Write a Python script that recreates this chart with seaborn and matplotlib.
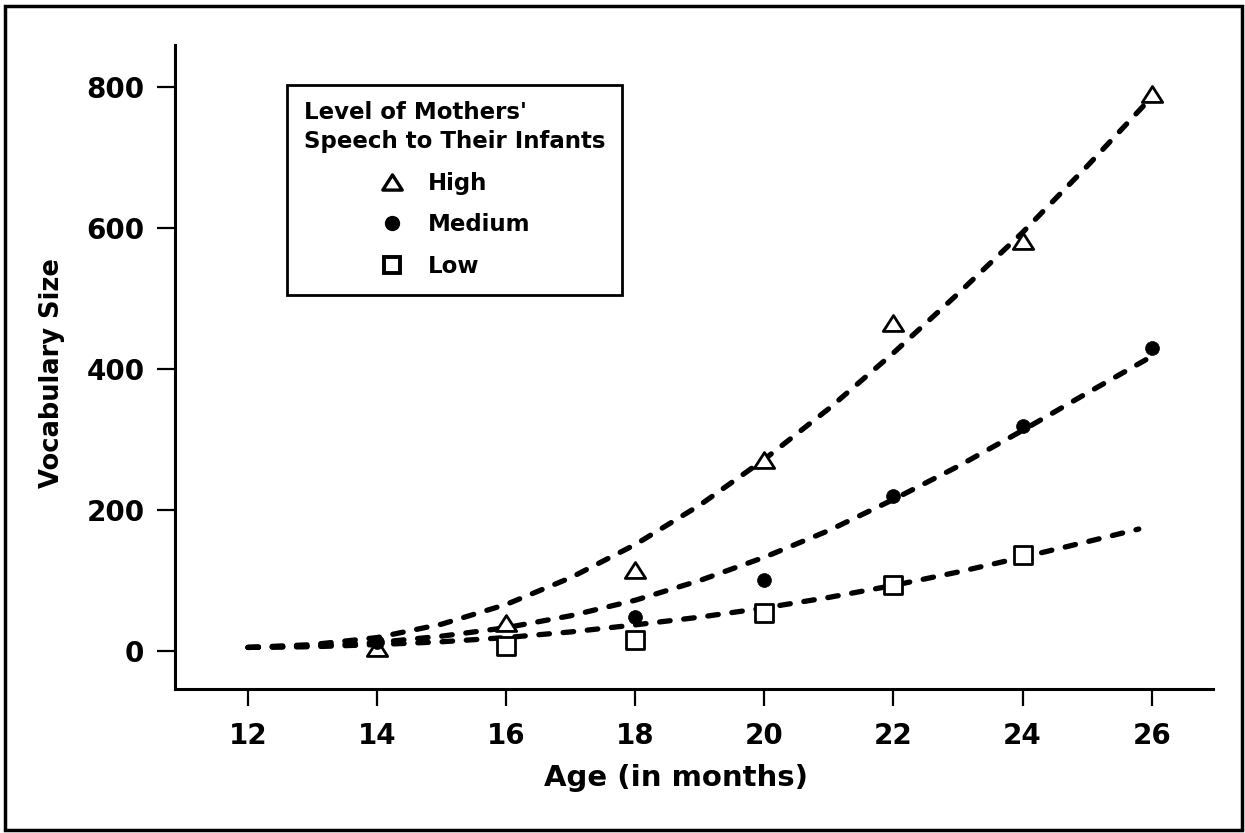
import matplotlib
matplotlib.use("Agg")
import matplotlib.pyplot as plt
from matplotlib.lines import Line2D
from matplotlib.patches import Rectangle
from matplotlib.path import Path
import seaborn as sns
import pandas as pd

# ---- data ----
levels = ["High", "Medium", "Low"]
point_ages_high = [14, 16, 18, 20, 22, 24, 26]
point_vals_high = [4, 40, 115, 271, 466, 582, 790]
point_ages_med = [14, 16, 18, 20, 22, 24, 26]
point_vals_med = [12, 8, 48, 100, 220, 319, 430]
point_ages_low = [16, 18, 20, 22, 24]
point_vals_low = [7, 16, 54, 93, 136]

curve_ages_high = [12, 13, 14, 15, 16, 17, 18, 19, 20, 21, 22, 23, 24, 25, 26]
curve_vals_high = [5, 9, 19, 38, 66, 104, 151, 207, 272, 344, 423, 507, 594, 688, 786]
curve_ages_med = [12, 13, 14, 15, 16, 17, 18, 19, 20, 21, 22, 23, 24, 25, 26]
curve_vals_med = [5, 7, 12, 21, 33, 50, 72, 100, 133, 171, 215, 262, 313, 366, 418]
curve_ages_low = [12, 13, 14, 15, 16, 17, 18, 19, 20, 21, 22, 23, 24, 25, 25.8]
curve_vals_low = [5, 6, 9, 13, 19, 27, 37, 48, 61, 76, 93, 112, 133, 155, 173]

x_ticks = [12, 14, 16, 18, 20, 22, 24, 26]
y_ticks = [0, 200, 400, 600, 800]
legend_title = "Level of Mothers'\nSpeech to Their Infants"
x_label = "Age (in months)"
y_label = "Vocabulary Size"

curves = pd.concat([
    pd.DataFrame({"age": curve_ages_high, "vocab": curve_vals_high, "level": "High"}),
    pd.DataFrame({"age": curve_ages_med, "vocab": curve_vals_med, "level": "Medium"}),
    pd.DataFrame({"age": curve_ages_low, "vocab": curve_vals_low, "level": "Low"}),
], ignore_index=True)
points = {
    "High": pd.DataFrame({"age": point_ages_high, "vocab": point_vals_high}),
    "Medium": pd.DataFrame({"age": point_ages_med, "vocab": point_vals_med}),
    "Low": pd.DataFrame({"age": point_ages_low, "vocab": point_vals_low}),
}

# ---- style ----
sns.set_style("ticks")
plt.rcParams["font.family"] = ["DejaVu Sans"]
plt.rcParams["font.weight"] = "bold"
plt.rcParams["text.color"] = "black"

fig = plt.figure(figsize=(12.45, 8.33), dpi=100)
ax = fig.add_axes([175 / 1245, 1 - 689 / 833, (1213 - 175) / 1245, (689 - 45) / 833])

dash = (2.0, 2.6)
sns.lineplot(data=curves, x="age", y="vocab", style="level", hue="level",
             palette={l: "black" for l in levels},
             dashes={l: dash for l in levels}, estimator=None, sort=True,
             linewidth=3.8, legend=False, ax=ax)
for ln in ax.lines:
    ln.set_dash_capstyle("round")

tri = Path([(-1, -0.78), (1, -0.78), (0, 0.78), (-1, -0.78)],
           [Path.MOVETO, Path.LINETO, Path.LINETO, Path.CLOSEPOLY])
marker_spec = {
    "High": dict(marker=tri, s=215, facecolor="white", edgecolor="black", linewidth=2.0),
    "Medium": dict(marker="o", s=100, facecolor="black", edgecolor="black", linewidth=0.5),
    "Low": dict(marker="s", s=160, facecolor="white", edgecolor="black", linewidth=2.0),
}
for lvl in levels:
    sns.scatterplot(data=points[lvl], x="age", y="vocab", legend=False, ax=ax,
                    zorder=3, **marker_spec[lvl])

ax.set_xlim(10.87, 26.95)
ax.set_ylim(-54, 860)
ax.set_xticks(x_ticks)
ax.set_yticks(y_ticks)
ax.tick_params(axis="both", direction="out", width=1.6, color="black",
               labelsize=20, labelcolor="black")
ax.tick_params(axis="x", length=12, pad=12)
ax.tick_params(axis="y", length=13, pad=9)
for lab in ax.get_xticklabels() + ax.get_yticklabels():
    lab.set_fontweight("bold")
sns.despine(ax=ax)
for sp in ["left", "bottom"]:
    ax.spines[sp].set_linewidth(2.2)
    ax.spines[sp].set_color("black")

ax.set_xlabel(x_label, fontsize=21, fontweight="bold", color="black")
ax.xaxis.set_label_coords(0.483, -0.116)
ax.set_ylabel(y_label, fontsize=18.5, fontweight="bold", color="black")
ax.yaxis.set_label_coords(-0.106, 0.49)

handles = [
    Line2D([], [], linestyle="none", marker=tri, markersize=14, markerfacecolor="white",
           markeredgecolor="black", markeredgewidth=2.4),
    Line2D([], [], linestyle="none", marker="o", markersize=10, markerfacecolor="black",
           markeredgecolor="black"),
    Line2D([], [], linestyle="none", marker="s", markersize=11.5, markerfacecolor="white",
           markeredgecolor="black", markeredgewidth=2.8),
]
leg = ax.legend(handles, levels, title=legend_title, loc="upper left",
                bbox_to_anchor=(0.108, 0.938), borderaxespad=0,
                frameon=True, fancybox=False, edgecolor="black", framealpha=1.0,
                prop={"size": 16.5, "weight": "bold"},
                title_fontproperties={"size": 16.5, "weight": "bold"},
                labelcolor="black",
                labelspacing=0.82, handlelength=1.2, handletextpad=1.0,
                borderpad=0.72)
leg.get_frame().set_linewidth(2.0)
leg.get_frame().set_edgecolor("black")
leg.get_title().set_color("black")
leg.get_title().set_multialignment("left")
leg.get_title().set_linespacing(1.3)

# figure frame
fig.patches.append(Rectangle((5 / 1245, 3 / 833), 1237 / 1245, 824 / 833,
                             transform=fig.transFigure, fill=False,
                             edgecolor="black", linewidth=2.5))

fig.savefig("out.png", dpi=100)
